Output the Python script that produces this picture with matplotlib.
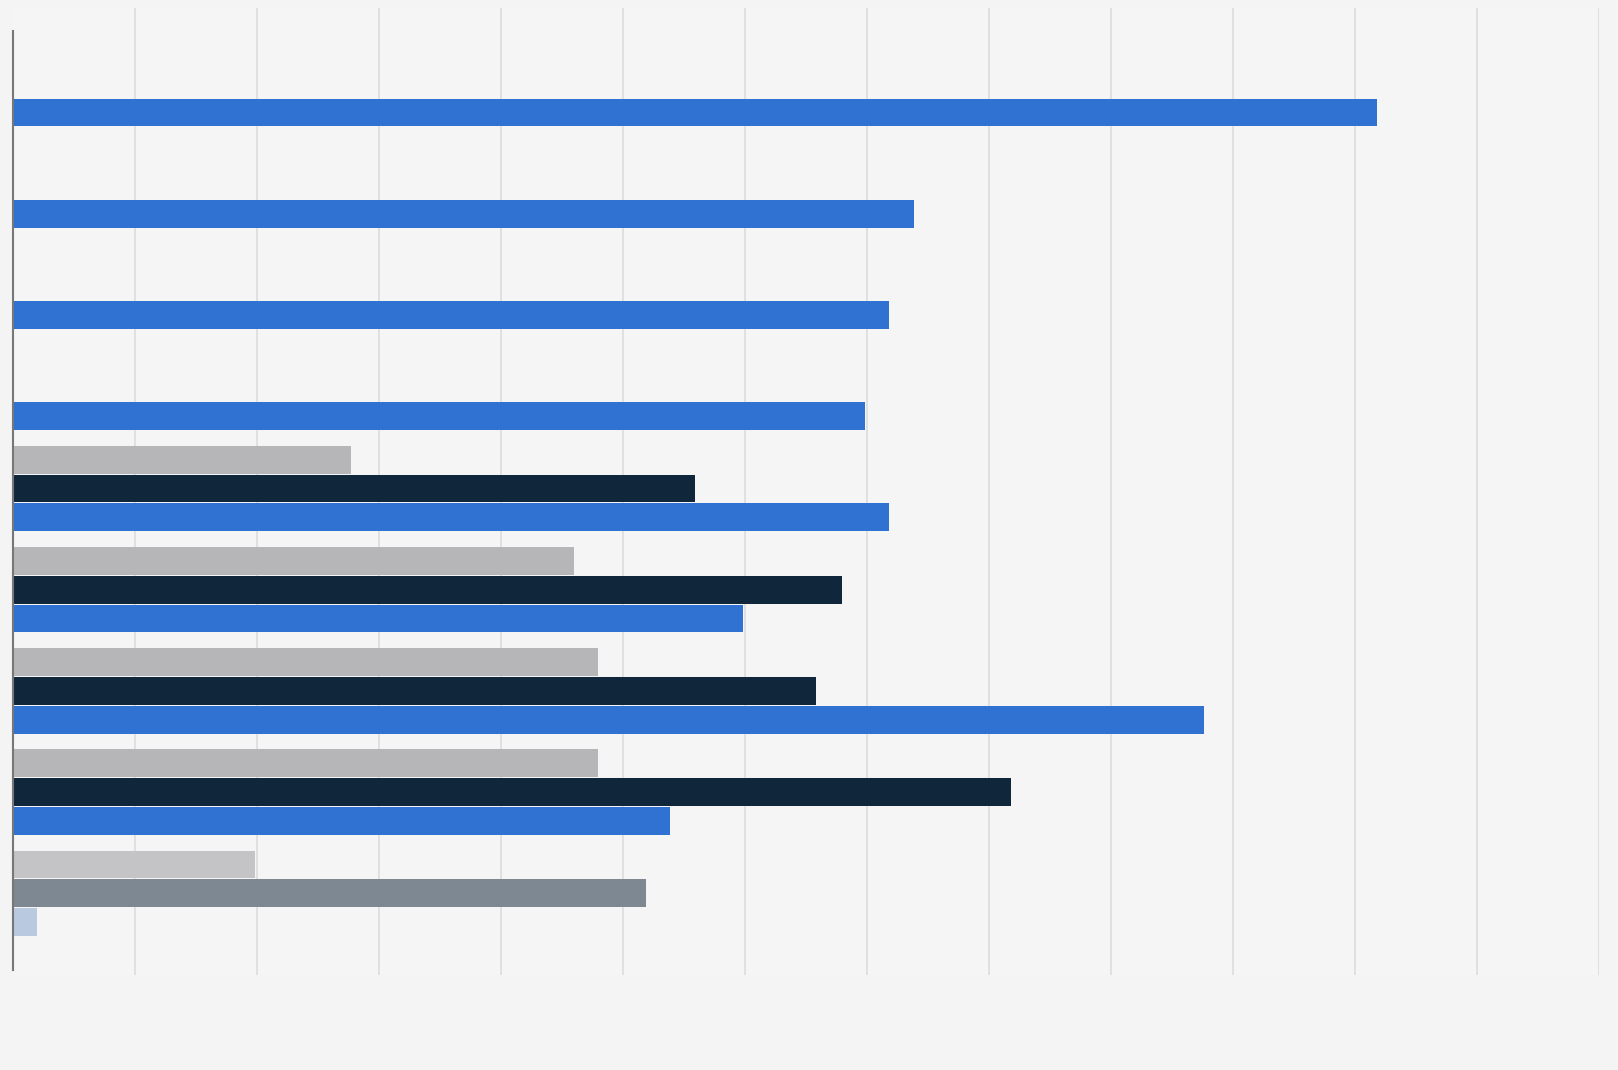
import matplotlib
matplotlib.use('Agg')

import matplotlib.pyplot as plt
import numpy as np

# values (grid step = 1 unit)
groups = list(range(9))
grey_vals = [0, 0, 0, 0, 2.77, 4.60, 4.79, 4.79, 1.98]
navy_vals = [0, 0, 0, 0, 5.59, 6.79, 6.58, 8.18, 5.19]
blue_vals = [11.18, 7.38, 7.18, 6.98, 7.18, 5.98, 9.76, 5.38, 0.19]

# colours per bar; the last group is drawn in faded tones
grey_colors = ['#b6b6b9'] * 8 + ['#c4c4c6']
navy_colors = ['#10263b'] * 8 + ['#7e8892']
blue_colors = ['#2f72d2'] * 8 + ['#b9c9e0']

W, H = 1618, 1070
fig = plt.figure(figsize=(W / 100, H / 100), dpi=100)
fig.patch.set_facecolor('#f4f4f4')

# axes placed in pixel terms
left, right, top, bottom = 13.4, 1599, 8.3, 975
ax = fig.add_axes([left / W, 1 - bottom / H, (right - left) / W, (bottom - top) / H])
ax.set_facecolor('#f5f5f5')

pitch = 0.285
height = 0.275
y = np.array(groups, dtype=float)

ax.barh(y - pitch, grey_vals, height=height, color=grey_colors, zorder=3)
ax.barh(y, navy_vals, height=height, color=navy_colors, zorder=3)
ax.barh(y + pitch, blue_vals, height=height, color=blue_colors, zorder=3)

ax.set_xlim(0, 13.0)
ax.set_ylim(8.807, -0.744)

ax.set_xticks(np.arange(1, 14))
ax.grid(axis='x', color='#dcdcdc', linewidth=1.2, zorder=0)
ax.tick_params(left=False, bottom=False, labelleft=False, labelbottom=False)

for s in ['top', 'right', 'bottom']:
    ax.spines[s].set_visible(False)
ax.spines['left'].set_color('#777777')
ax.spines['left'].set_linewidth(1.5)
ax.spines['left'].set_bounds(-0.52, 8.76)
ax.spines['left'].set_zorder(4)

plt.savefig('out.png', dpi=100, facecolor=fig.get_facecolor())
